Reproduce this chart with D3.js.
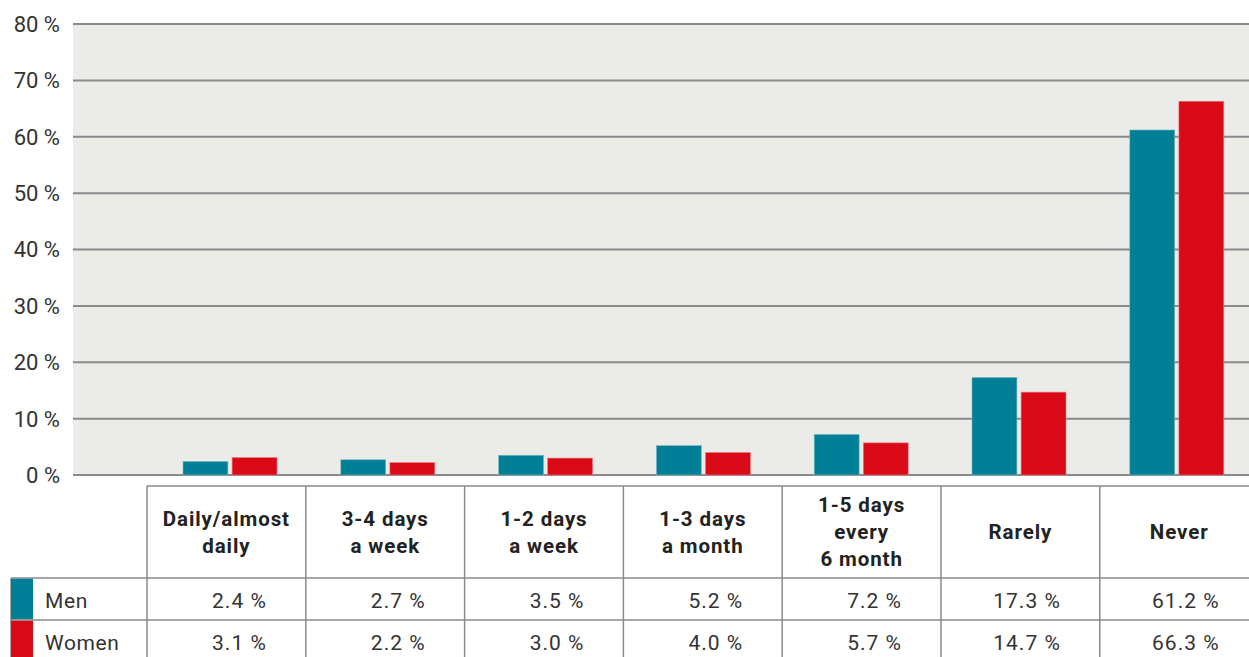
<!DOCTYPE html>
<html>
<head>
<meta charset="utf-8">
<script src="https://cdn.jsdelivr.net/npm/d3@7"></script>
<style>
  body { margin: 0; background: #fff; }
  svg { display: block; font-family: Roboto, "Noto Sans", sans-serif; }
</style>
</head>
<body>
<div id="chart"></div>
<script>
// data
var categories = [["Daily/almost", "daily"], ["3-4 days", "a week"], ["1-2 days", "a week"], ["1-3 days", "a month"], ["1-5 days", "every", "6 month"], ["Rarely"], ["Never"]]
var men = [2.4, 2.7, 3.5, 5.2, 7.2, 17.3, 61.2]
var women = [3.1, 2.2, 3.0, 4.0, 5.7, 14.7, 66.3]
var seriesNames = ["Men", "Women"]
var seriesColors = ["#007f96", "#d90916"]
var yTicks = [0, 10, 20, 30, 40, 50, 60, 70, 80]

var W = 1249, H = 657
var plotLeft = 73, plotTop = 24, plotBottom = 475
var colLeft = 147, colW = 158.8, barStep = 157.8

var svg = d3.select('#chart').append('svg')
  .attr('width', W)
  .attr('height', H)

// plot background
svg.append('rect')
  .attr('x', plotLeft)
  .attr('y', plotTop)
  .attr('width', W - plotLeft)
  .attr('height', plotBottom - plotTop)
  .attr('fill', '#ebebe7')

var y = d3.scaleLinear().domain([0, 80]).range([plotBottom, plotTop])
// bar groups
var x = d3.scaleBand()
  .domain(d3.range(categories.length))
  .range([colLeft, colLeft + barStep * categories.length])
  .paddingInner(0).paddingOuter(0)
// table columns
var xt = d3.scaleBand()
  .domain(d3.range(categories.length))
  .range([colLeft, colLeft + colW * categories.length])
var xs = d3.scaleBand().domain([0, 1]).range([36, 36 + 94]).paddingInner(0.085)

// gridlines + tick labels
var grid = svg.append('g')
grid.selectAll('line')
  .data(yTicks)
  .enter()
  .append('line')
  .attr('x1', plotLeft)
  .attr('x2', W)
  .attr('y1', function (d) { return y(d) })
  .attr('y2', function (d) { return y(d) })
  .attr('stroke', '#8a8a8e')
  .attr('stroke-width', 2)
grid.selectAll('text')
  .data(yTicks)
  .enter()
  .append('text')
  .attr('x', 60)
  .attr('y', function (d) { return y(d) })
  .attr('dy', '0.36em')
  .attr('text-anchor', 'end')
  .attr('font-size', '22px')
  .attr('fill', '#333')
  .text(function (d) { return d + ' %' })

// bars
var series = [men, women]
series.forEach(function (vals, s) {
  svg.append('g').selectAll('rect')
    .data(vals)
    .enter()
    .append('rect')
    .attr('x', function (d, i) { return x(i) + xs(s) })
    .attr('y', function (d) { return y(d) })
    .attr('width', xs.bandwidth())
    .attr('height', function (d) { return y(0) - y(d) })
    .attr('fill', seriesColors[s])
    .attr('stroke', s == 0 ? '#7fb6c2' : '#ec7f86')
    .attr('stroke-width', 0.6)
})

// table
var headTop = 486, headBot = 578, rowH = 42
var tbl = svg.append('g')
var lineCol = '#8a8a8e'
// vertical column lines
for (var i = 0; i < categories.length; i++) {
  tbl.append('line')
    .attr('x1', xt(i)).attr('x2', xt(i))
    .attr('y1', headTop).attr('y2', H)
    .attr('stroke', lineCol).attr('stroke-width', 1.5)
}
tbl.append('line')
  .attr('x1', colLeft).attr('x2', W)
  .attr('y1', headTop).attr('y2', headTop)
  .attr('stroke', lineCol).attr('stroke-width', 1.5)
for (var r = 0; r < 2; r++) {
  tbl.append('line')
    .attr('x1', 11).attr('x2', W)
    .attr('y1', headBot + r * rowH).attr('y2', headBot + r * rowH)
    .attr('stroke', lineCol).attr('stroke-width', 1.5)
}
tbl.append('line')
  .attr('x1', 11).attr('x2', 11)
  .attr('y1', headBot).attr('y2', H)
  .attr('stroke', lineCol).attr('stroke-width', 1.5)

// header labels
categories.forEach(function (lines, i) {
  var cx = xt(i) + colW / 2
  var cy = (headTop + headBot) / 2
  var lh = 27
  var t = tbl.append('text')
    .attr('text-anchor', 'middle')
    .attr('font-size', '20.5px')
    .attr('font-weight', 'bold')
    .attr('letter-spacing', '0.9px')
    .attr('fill', '#222')
  lines.forEach(function (l, k) {
    t.append('tspan')
      .attr('x', cx)
      .attr('y', cy + (k - (lines.length - 1) / 2) * lh)
      .attr('dy', '0.36em')
      .text(l)
  })
})

// series rows
series.forEach(function (vals, s) {
  var top = headBot + s * rowH
  tbl.append('rect')
    .attr('x', 11).attr('y', top + 0.75)
    .attr('width', 22).attr('height', rowH - 1.5)
    .attr('fill', seriesColors[s])
  tbl.append('text')
    .attr('x', 45)
    .attr('y', top + rowH / 2 + 1)
    .attr('dy', '0.36em')
    .attr('font-size', '21px')
    .attr('letter-spacing', '0.6px')
    .attr('fill', '#333')
    .text(seriesNames[s])
  tbl.selectAll(null)
    .data(vals)
    .enter()
    .append('text')
    .attr('x', function (d, i) { return xt(i) + colW - 39 })
    .attr('y', top + rowH / 2 + 1)
    .attr('dy', '0.36em')
    .attr('text-anchor', 'end')
    .attr('font-size', '21px')
    .attr('letter-spacing', '1px')
    .attr('fill', '#333')
    .text(function (d) { return d.toFixed(1) + ' %' })
})
</script>
</body>
</html>
